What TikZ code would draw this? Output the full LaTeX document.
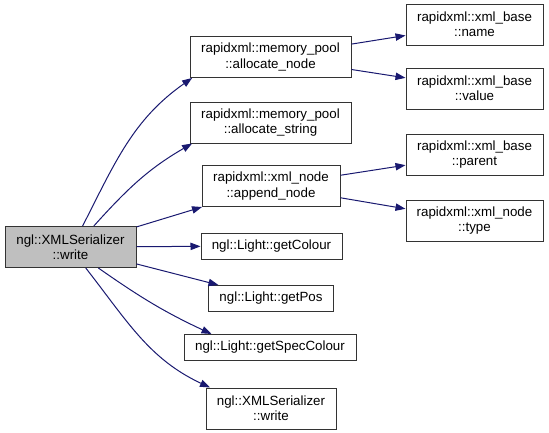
\documentclass[tikz,border=0pt]{standalone}
\usepackage{fontspec}
\setmainfont{Liberation Sans}
\usetikzlibrary{arrows.meta}
\definecolor{edgeblue}{RGB}{25,25,112}
\definecolor{rootgray}{RGB}{191,191,191}

\begin{document}
\begin{tikzpicture}[
  x=.75pt,y=-.75pt,
  font=\fontsize{10}{11.5}\selectfont,
  >={Triangle[length=7.5pt,width=5.5pt]},
  fn/.style={draw=black!80,line width=.75pt,fill=white,align=center,inner sep=0pt,minimum height=30.75pt},
  one/.style={fn,minimum height=19.5pt},
  root/.style={fn,fill=rootgray},
  call/.style={->,line width=.75pt,edgeblue}
]
\useasboundingbox (0,0) rectangle (549,432);

% caller
\node[root,minimum width=131*.75pt] (wr0) at (70.5,247) {ngl::XMLSerializer\\::write};

% direct callees
\node[fn,minimum width=161*.75pt] (an) at (270.5,57) {rapidxml::memory\_pool\\::allocate\_node};
\node[fn,minimum width=161*.75pt] (as) at (270.5,122.5) {rapidxml::memory\_pool\\::allocate\_string};
\node[fn,minimum width=138*.75pt] (ap) at (271,186) {rapidxml::xml\_node\\::append\_node};
\node[one,minimum width=141*.75pt] (gc) at (271.5,246) {ngl::Light::getColour};
\node[one,minimum width=125*.75pt] (gp) at (271,298.5) {ngl::Light::getPos};
\node[one,minimum width=172*.75pt] (gs) at (270,347.5) {ngl::Light::getSpecColour};
\node[fn,minimum width=130*.75pt] (wr1) at (271,408.5) {ngl::XMLSerializer\\::write};

% second level
\node[fn,minimum width=137*.75pt] (nm) at (474.5,24.5) {rapidxml::xml\_base\\::name};
\node[fn,minimum width=137*.75pt] (vl) at (474.5,88.5) {rapidxml::xml\_base\\::value};
\node[fn,minimum width=137*.75pt] (pa) at (474.5,154.5) {rapidxml::xml\_base\\::parent};
\node[fn,minimum width=137*.75pt] (ty) at (474.5,220.5) {rapidxml::xml\_node\\::type};

\draw[call] (wr0.60) to[out=63,in=215] (an.195);
\draw[call] (wr0.42) to[out=48,in=210] (as.195);
\draw[call] (wr0) -- (ap);
\draw[call] (wr0) -- (gc);
\draw[call] (wr0) -- (gp);
\draw[call] (wr0.323) to[out=-35,in=155] (gs.167);
\draw[call] (wr0.306) to[out=-52,in=155] (wr1.161);

\draw[call] (an) -- (nm);
\draw[call] (an) -- (vl);
\draw[call] (ap) -- (pa);
\draw[call] (ap) -- (ty);
\end{tikzpicture}
\end{document}
